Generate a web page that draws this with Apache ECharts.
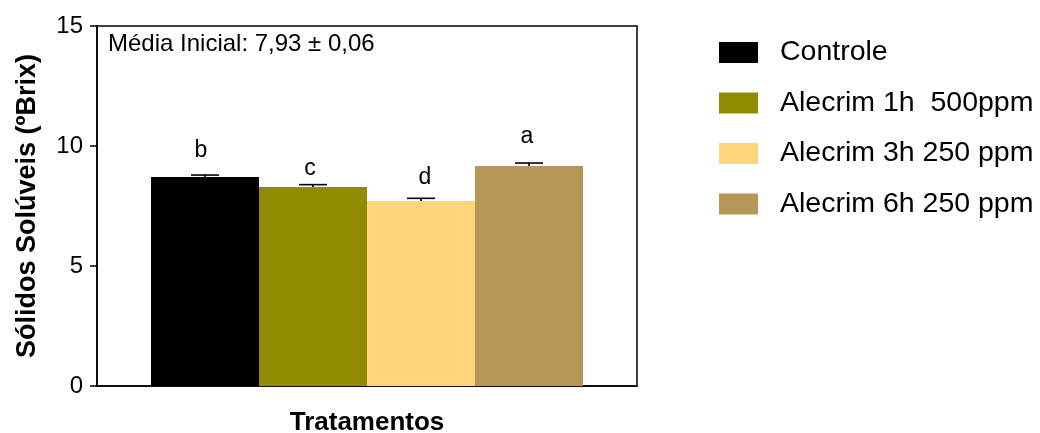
<!DOCTYPE html>
<html>
<head>
<meta charset="utf-8">
<script src="https://cdn.jsdelivr.net/npm/echarts@6/dist/echarts.min.js"></script>
<style>
  html, body { margin: 0; padding: 0; background: #fff; }
  #chart { width: 1040px; height: 433px; }
</style>
</head>
<body>
<div id="chart"></div>
<script>
// Soluble solids (ºBrix) per treatment
const treatments = ['Controle', 'Alecrim 1h  500ppm', 'Alecrim 3h 250 ppm', 'Alecrim 6h 250 ppm'];
const means = [8.71, 8.29, 7.71, 9.17];
const errors = [0.08, 0.10, 0.11, 0.12];
const letters = ['b', 'c', 'd', 'a'];
const colors = ['#000000', '#918b00', '#fed57a', '#b69757'];
const yTicks = [0, 5, 10, 15];

const FONT = 'Liberation Sans, Arial, sans-serif';
// placement of each significance letter relative to its bar top
const letterGap = [15, 7, 12, 18];
const letterShift = [-4, -3, 4, -2];
const CAT_GAP = 0.2;                 // barCategoryGap as a fraction of the band

const chart = echarts.init(document.getElementById('chart'));

const barSeries = treatments.map((name, i) => ({
  name: name,
  type: 'bar',
  data: [means[i]],
  barGap: '0%',
  barCategoryGap: (CAT_GAP * 100) + '%',
  itemStyle: { color: colors[i] },
  label: {
    show: true,
    position: 'top',
    distance: letterGap[i],
    offset: [letterShift[i], 0],
    formatter: () => letters[i],
    fontFamily: FONT,
    fontSize: 23,
    color: '#000'
  },
  silent: true
}));

// Upper error bars, placed at the centre of each grouped bar
const errorSeries = {
  type: 'custom',
  z: 5,
  silent: true,
  clip: false,
  data: means.map((m, i) => [0, m, errors[i], i]),
  encode: { x: 0, y: 1 },
  renderItem: function (params, api) {
    const idx = api.value(3);
    const band = api.size([1, 0])[0];
    const barW = band * (1 - CAT_GAP) / treatments.length;
    const cx = api.coord([0, 0])[0] + (idx - (treatments.length - 1) / 2) * barW;
    const yTop = api.coord([0, api.value(1) + api.value(2)])[1];
    const yBase = api.coord([0, api.value(1)])[1];
    const half = 14;
    const style = { stroke: '#000', lineWidth: 1.6 };
    return {
      type: 'group',
      children: [
        { type: 'line', shape: { x1: cx, y1: yBase, x2: cx, y2: yTop }, style: style },
        { type: 'line', shape: { x1: cx - half, y1: yTop, x2: cx + half, y2: yTop }, style: style }
      ]
    };
  }
};

chart.setOption({
  backgroundColor: '#fff',
  animation: false,
  textStyle: { fontFamily: FONT },
  grid: {
    left: 97, top: 26, width: 540, height: 360,
    containLabel: false,
    outerBoundsMode: 'none',
    show: true, borderColor: '#000', borderWidth: 1.5, backgroundColor: 'transparent'
  },
  legend: {
    orient: 'vertical',
    left: 714,
    top: 33,
    itemWidth: 39,
    itemHeight: 21,
    itemGap: 21.5,
    icon: 'rect',
    data: treatments,
    textStyle: { fontFamily: FONT, fontSize: 28.5, color: '#000', padding: [0, 0, 0, 17] },
    selectedMode: false
  },
  xAxis: {
    type: 'category',
    data: [''],
    name: 'Tratamentos',
    nameLocation: 'middle',
    nameGap: 24,
    nameTextStyle: { fontFamily: FONT, fontSize: 26, fontWeight: 'bold', color: '#000' },
    axisLine: { lineStyle: { color: '#000', width: 1.5 } },
    axisTick: { show: false },
    axisLabel: { show: false }
  },
  yAxis: {
    type: 'value',
    min: yTicks[0],
    max: yTicks[yTicks.length - 1],
    interval: yTicks[1] - yTicks[0],
    name: 'Sólidos Solúveis (ºBrix)',
    nameLocation: 'middle',
    nameGap: 56,
    nameTextStyle: { fontFamily: FONT, fontSize: 27, fontWeight: 'bold', color: '#000' },
    axisLine: { show: true, lineStyle: { color: '#000', width: 1.5 } },
    axisTick: { show: true, length: 7, lineStyle: { color: '#000', width: 1.5 } },
    axisLabel: { fontFamily: FONT, fontSize: 24, color: '#000', margin: 14 },
    splitLine: { show: false }
  },
  graphic: [{
    type: 'text',
    left: 108,
    top: 32,
    style: { text: 'Média Inicial: 7,93 ± 0,06', font: '24px ' + FONT, fill: '#000' },
    silent: true
  }],
  series: [...barSeries, errorSeries]
});
</script>
</body>
</html>
